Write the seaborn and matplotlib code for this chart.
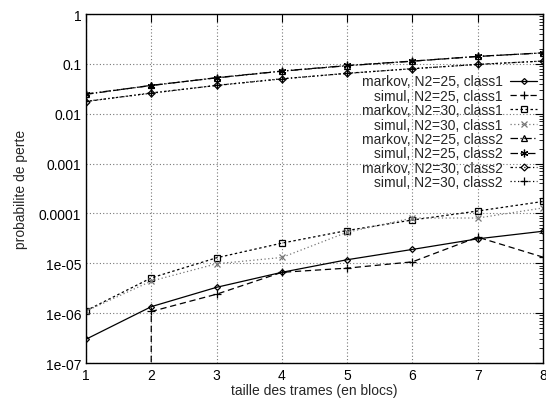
import numpy as np
import pandas as pd
import matplotlib
matplotlib.use("Agg")
import matplotlib.pyplot as plt
import seaborn as sns

sns.set_style("white")
plt.rcParams["font.family"] = ["Liberation Sans", "DejaVu Sans"]

# frame sizes (blocks)
sizes = [1, 2, 3, 4, 5, 6, 7, 8]

# loss probabilities
markov_25_c1 = [3.0e-7, 1.35e-6, 3.3e-6, 6.6e-6, 1.18e-5, 1.9e-5, 3.1e-5, 4.4e-5]
simul_25_c1 = [0.0, 1.08e-6, 2.4e-6, 6.6e-6, 8.0e-6, 1.07e-5, 3.35e-5, 1.33e-5]
markov_30_c1 = [1.12e-6, 5.1e-6, 1.29e-5, 2.54e-5, 4.55e-5, 7.4e-5, 1.12e-4, 1.74e-4]
simul_30_c1 = [1.1e-6, 4.4e-6, 9.8e-6, 1.31e-5, 4.2e-5, 8.1e-5, 8.1e-5, 1.29e-4]
markov_25_c2 = [0.0245, 0.0372, 0.0525, 0.0715, 0.092, 0.1135, 0.141, 0.167]
simul_25_c2 = [0.0250, 0.0368, 0.0530, 0.0720, 0.093, 0.114, 0.142, 0.166]
markov_30_c2 = [0.0176, 0.0262, 0.0370, 0.0500, 0.0650, 0.0800, 0.0980, 0.1140]
simul_30_c2 = [0.0178, 0.0258, 0.0372, 0.0505, 0.0645, 0.0805, 0.0975, 0.1145]

labels = [
    "markov, N2=25, class1",
    "simul, N2=25, class1",
    "markov, N2=30, class1",
    "simul, N2=30, class1",
    "markov, N2=25, class2",
    "simul, N2=25, class2",
    "markov, N2=30, class2",
    "simul, N2=30, class2",
]
series = [markov_25_c1, simul_25_c1, markov_30_c1, simul_30_c1,
          markov_25_c2, simul_25_c2, markov_30_c2, simul_30_c2]

ytick_values = [1e-7, 1e-6, 1e-5, 1e-4, 1e-3, 1e-2, 1e-1, 1]
ytick_labels = ["1e-07", "1e-06", "1e-05", "0.0001", "0.001", "0.01", "0.1", "1"]

# gnuplot-ish styles: (color, dashes, marker, markersize, filled)
styles = [
    ("k", None, "D", 3, False),
    ("k", (5, 3), "+", 5.5, True),
    ("k", (2, 2), "s", 5, False),
    ("#777777", (1, 2), "x", 4.5, True),
    ("k", (6, 2, 1, 2), "^", 4.5, False),
    ("k", (6, 2, 1, 2, 1, 2), (6, 2, 0), 5.5, True),
    ("k", (2, 2, 1, 2), "D", 3.5, False),
    ("k", (1, 2), "+", 5.5, True),
]

fig = plt.figure(figsize=(5.46, 4.02), dpi=100)
ax = fig.add_axes([0.1575, 0.0945, 0.837, 0.868])

for lab, vals, (col, dash, mk, ms, filled) in zip(labels, series, styles):
    df = pd.DataFrame({"size": sizes, "p": vals})
    kw = dict(color=col, marker=mk, markersize=ms, markeredgecolor=col,
              markeredgewidth=0.9, linewidth=0.9, label=lab, errorbar=None)
    if not filled:
        kw["markerfacecolor"] = "none"
    if dash is not None:
        kw["dashes"] = dash
    sns.lineplot(data=df, x="size", y="p", ax=ax, **kw)

ax.set_yscale("log")
ax.set_xlim(1, 8)
ax.set_ylim(1e-7, 1)
ax.set_xticks(sizes)
ax.set_xticklabels([str(s) for s in sizes])
ax.set_yticks(ytick_values)
ax.set_yticklabels(ytick_labels)

ax.grid(True, which="major", linestyle=(0, (1, 2)), color="#777777", linewidth=0.8)
ax.tick_params(axis="both", which="both", direction="in", top=True, right=True,
               labelsize=10, colors="k")
ax.tick_params(axis="both", which="major", length=6, width=0.8)
ax.tick_params(axis="y", which="minor", length=3, width=0.6)
for sp in ax.spines.values():
    sp.set_color("k")
    sp.set_linewidth(1.0)

ax.set_xlabel("taille des trames (en blocs)", fontsize=10, labelpad=1)
ax.set_ylabel("probabilite de perte", fontsize=10, labelpad=8)

leg = ax.legend(loc="upper right", bbox_to_anchor=(1.0, 0.843), frameon=False,
                markerfirst=False, fontsize=10, handlelength=2.0, handletextpad=0.5,
                labelspacing=0.03, borderaxespad=0.0, numpoints=1)

fig.savefig("out.png", dpi=100)
